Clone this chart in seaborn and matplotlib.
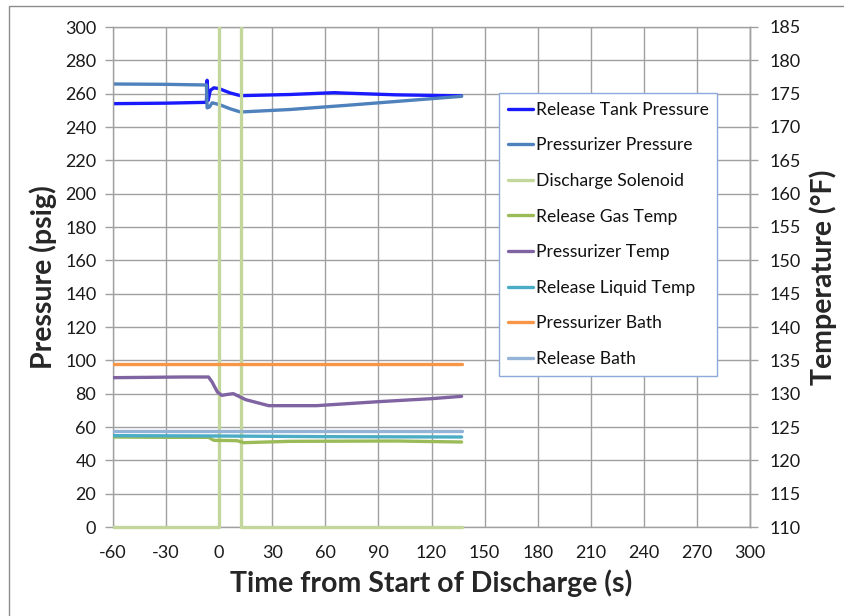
import numpy as np
import pandas as pd
import seaborn as sns
import matplotlib.pyplot as plt
from matplotlib.patches import Rectangle
from matplotlib.transforms import Bbox, TransformedBbox

# Pressure series (left axis, psig)
t_tank = [-60, -30, -7.2, -6.8, -6.2, -5, -3, 0, 6, 12, 40, 65, 72, 100, 137]
p_tank = [254.0, 254.3, 254.8, 268.0, 256.0, 262.0, 263.5, 263.0, 260.5, 258.8, 259.5, 260.6, 260.3, 259.3, 258.7]

t_przr = [-60, -30, -7.2, -6.8, -5.5, -4, 0, 6, 12, 40, 72, 137]
p_przr = [265.8, 265.6, 265.2, 251.5, 252.0, 254.5, 253.5, 251.0, 249.0, 250.5, 253.0, 258.4]

# Discharge solenoid (open between 0 and ~12.4 s)
t_sol = [-60, 0, 0, 12.4, 12.4, 137]
v_sol = [0, 0, 400, 400, 0, 0]

# Temperature series (right axis, degF)
t_gas = [-60, -30, -6, -3, 10, 14, 40, 100, 137]
T_gas = [123.5, 123.45, 123.45, 123.0, 122.95, 122.65, 122.85, 122.9, 122.75]

t_ptemp = [-60, -20, -6, -4, -1, 1.5, 5, 8, 15, 28, 55, 90, 120, 137]
T_ptemp = [132.4, 132.5, 132.5, 131.75, 130.25, 129.75, 129.9, 130.0, 129.1, 128.2, 128.2, 128.8, 129.25, 129.6]

t_liq = [-60, 0, 60, 137]
T_liq = [123.7, 123.65, 123.55, 123.5]

t_pbath = [-60, 137]
T_pbath = [134.5, 134.5]

t_rbath = [-60, 137]
T_rbath = [124.45, 124.45]

sns.set_theme(style="white")
plt.rcParams['font.family'] = ['Lato', 'DejaVu Sans']
plt.rcParams['axes.unicode_minus'] = False

fig = plt.figure(figsize=(8.44, 6.16), dpi=100)
ax = fig.add_axes([113/844, 1-527/616, (750-113)/844, 500/616])
ax2 = ax.twinx()

lw = 2.4
sns.lineplot(x=t_tank, y=p_tank, ax=ax, color='#1a1aff', lw=lw, label='Release Tank Pressure', sort=False, estimator=None)
sns.lineplot(x=t_przr, y=p_przr, ax=ax, color='#4f81bd', lw=lw, label='Pressurizer Pressure', sort=False, estimator=None)
sns.lineplot(x=t_sol, y=v_sol, ax=ax, color='#c3d69b', lw=lw, label='Discharge Solenoid', sort=False, estimator=None, zorder=3)
# let the solenoid's zero line show fully at the bottom edge
ax.lines[-1].set_clip_box(TransformedBbox(Bbox([[0, -0.02], [1, 1]]), ax.transAxes))

sns.lineplot(x=t_gas, y=T_gas, ax=ax2, color='#9bbb59', lw=lw, label='Release Gas Temp', sort=False, estimator=None)
sns.lineplot(x=t_ptemp, y=T_ptemp, ax=ax2, color='#8064a2', lw=lw, label='Pressurizer Temp', sort=False, estimator=None)
sns.lineplot(x=t_liq, y=T_liq, ax=ax2, color='#4bacc6', lw=lw, label='Release Liquid Temp', sort=False, estimator=None)
sns.lineplot(x=t_pbath, y=T_pbath, ax=ax2, color='#f79646', lw=lw, label='Pressurizer Bath', sort=False, estimator=None)
sns.lineplot(x=t_rbath, y=T_rbath, ax=ax2, color='#95b3d7', lw=lw, label='Release Bath', sort=False, estimator=None)

grid_c = '#a0a0a0'
ax.set_xlim(-60, 300)
ax.set_ylim(0, 300)
ax2.set_ylim(110, 185)
ax.set_xticks(np.arange(-60, 301, 30))
ax.set_yticks(np.arange(0, 301, 20))
ax2.set_yticks(np.arange(110, 186, 5))
ax.grid(True, color=grid_c, lw=1)
for a in (ax, ax2):
    for s in a.spines.values():
        s.set_color(grid_c)
        s.set_linewidth(1)
    a.tick_params(direction='out', length=6, width=1, color=grid_c, labelsize=13, labelcolor='#1a1a1a')
for side in ('left', 'bottom', 'top'):
    ax2.spines[side].set_visible(False)
ax.spines['bottom'].set_zorder(1)
ax.tick_params(axis='y', pad=6)
ax2.tick_params(axis='y', pad=8)
ax.tick_params(axis='x', pad=7)

ax.set_xlabel('Time from Start of Discharge (s)', fontsize=20.5, fontweight='bold', labelpad=6)
ax.set_ylabel('Pressure (psig)', fontsize=20.5, fontweight='bold', labelpad=6)
ax2.set_ylabel('Temperature (°F)', fontsize=20.5, fontweight='bold', labelpad=6)

h1, l1 = ax.get_legend_handles_labels()
h2, l2 = ax2.get_legend_handles_labels()
ax.get_legend().remove()
ax2.get_legend().remove()
leg = ax2.legend(h1 + h2, l1 + l2, loc='upper left', bbox_to_anchor=((499-113)/637, (527-93)/500),
                 fontsize=12.6, frameon=True, fancybox=False, framealpha=1, edgecolor='#8eaadb',
                 handlelength=1.45, handletextpad=0.15, labelspacing=1.12, borderpad=0.5, borderaxespad=0)
leg.get_frame().set_linewidth(1)
for txt in leg.get_texts():
    txt.set_color('#111111')

fig.patches.append(Rectangle((9/844, -0.1), 1.0, 1.1 - 6/616, transform=fig.transFigure,
                             fill=False, edgecolor='#8c8c8c', lw=1))

fig.savefig('out.png', dpi=100)
